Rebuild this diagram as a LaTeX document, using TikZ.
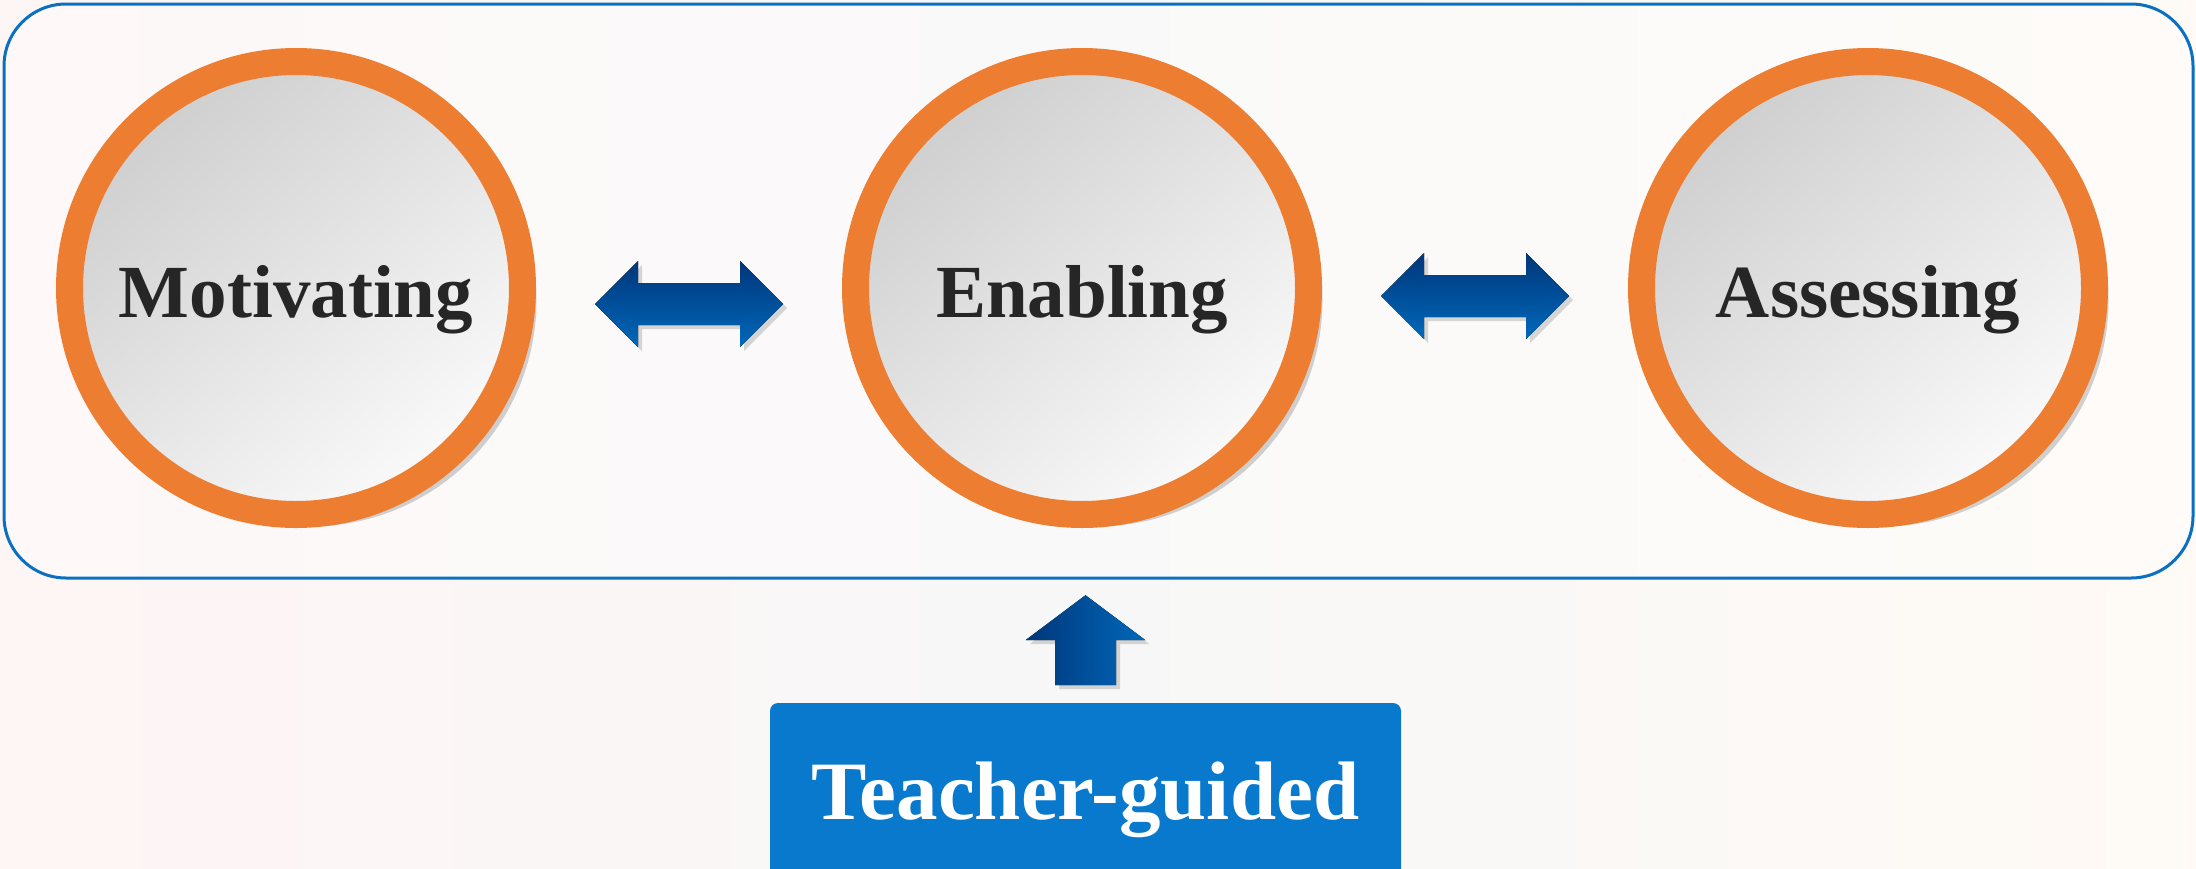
\documentclass[tikz,border=0pt]{standalone}
\usepackage{fontspec}
\setmainfont{Liberation Serif}
\usetikzlibrary{shadows,calc}

\definecolor{ringorange}{HTML}{ED7D31}
\definecolor{frameblue}{HTML}{0A70C2}
\definecolor{boxblue}{HTML}{0879CD}
\definecolor{arrowdark}{HTML}{00367A}
\definecolor{arrowlight}{HTML}{0068BA}
\definecolor{textgray}{HTML}{262626}

\tikzset{
  stage/.style={circle, draw=ringorange, line width=6.75pt, minimum size=113.25pt, inner sep=0pt, top color=black!19, bottom color=black!2, shading angle=40, drop shadow={shadow xshift=3.5pt, shadow yshift=-3pt, opacity=0.25, fill=black!70}, text=textgray, font=\fontsize{18.75}{20}\selectfont\bfseries, text height=14.5pt, text depth=0pt},
  twoway/.style={top color=arrowdark, bottom color=arrowlight, drop shadow={shadow xshift=1pt, shadow yshift=-1pt, opacity=0.3}},
}

\begin{document}
\begin{tikzpicture}[x=0.25pt, y=-0.25pt]

\useasboundingbox (0, 0) rectangle (2196, 868);
\fill[left color=black!6!red!4, right color=black!4!orange!4, middle color=black!3] (0, 0) rectangle (2196, 868);

\node[draw=frameblue, line width=0.75pt, rounded corners=15.5pt, minimum width=547.25pt, minimum height=143.5pt, fill=white, fill opacity=0.35] (frame) at (1098.5, 291) {};

\node[stage] (circle a) at (296, 288) {Motivating};
\node[stage] (circle b) at (1082, 288) {Enabling};
\node[stage] (circle c) at (1868, 288) {Assessing};

\coordinate (arrow ab) at ($(circle a)!0.5!(circle b) + (0, 16)$);
\coordinate (arrow bc) at ($(circle b)!0.5!(circle c) + (0, 8)$);
\fill[twoway] ($(arrow ab) + (-94, 0)$) -- ++(43, -43) -- ++(0, 22) -- ++(102, 0) -- ++(0, -22) -- ++(43, 43) -- ++(-43, 43) -- ++(0, -22) -- ++(-102, 0) -- ++(0, 22) -- cycle;
\fill[twoway] ($(arrow bc) + (-94, 0)$) -- ++(43, -43) -- ++(0, 22) -- ++(102, 0) -- ++(0, -22) -- ++(43, 43) -- ++(-43, 43) -- ++(0, -22) -- ++(-102, 0) -- ++(0, 22) -- cycle;

\node[fill=boxblue, rounded corners=2pt, minimum width=157.75pt, minimum height=53pt, text=white, font=\fontsize{20.75}{22}\selectfont\bfseries, text height=15pt, text depth=10pt] (guide) at (1085.5, 809) {Teacher-guided};

\coordinate (arrow up) at ($(guide.north) + (0, -107)$);
\fill[left color=arrowdark, right color=arrowlight, drop shadow={shadow xshift=1pt, shadow yshift=-1pt, opacity=0.3}] (arrow up) -- ++(60, 45) -- ++(-29.5, 0) -- ++(0, 45) -- ++(-61, 0) -- ++(0, -45) -- ++(-29.5, 0) -- cycle;

\end{tikzpicture}
\end{document}
